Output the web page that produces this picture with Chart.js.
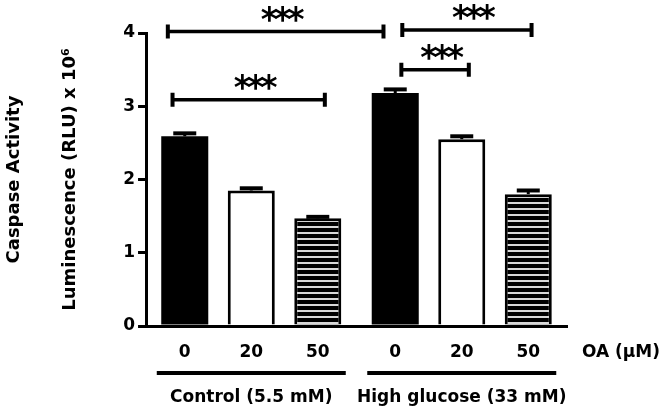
<!DOCTYPE html>
<html>
<head>
<meta charset="utf-8">
<script src="https://cdn.jsdelivr.net/npm/chart.js@4"></script>
<style>
  html, body { margin: 0; padding: 0; background: #fff; }
</style>
</head>
<body>
<canvas id="myChart" width="669" height="416"></canvas>
<script>
// groups and OA doses
const groups = ['Control (5.5 mM)', 'High glucose (33 mM)'];
const doses = ['0', '20', '50'];
const doseUnit = 'OA (\u03bcM)';

// luminescence (RLU x 10^6), one value per group
const oa0 = [2.59, 3.18];
const oa20 = [1.85, 2.55];
const oa50 = [1.47, 1.80];

// error (upper bar only)
const err0 = [0.04, 0.05];
const err20 = [0.03, 0.04];
const err50 = [0.02, 0.05];

const yTicks = [0, 1, 2, 3, 4];

// significance brackets: [dataset, group] -> [dataset, group] at height sigY
const sigFrom = [[0, 0], [0, 0], [0, 1], [0, 1]];
const sigTo = [[0, 1], [2, 0], [2, 1], [1, 1]];
const sigY = [4.02, 3.09, 4.04, 3.5];
const sigText = ['***', '***', '***', '***'];

const FONT = "'DejaVu Sans', Verdana, sans-serif";

// black bar with light horizontal lines
function stripes() {
    const c = document.createElement('canvas');
    c.width = 8;
    c.height = 6;
    const g = c.getContext('2d');
    g.fillStyle = '#000';
    g.fillRect(0, 0, 8, 6);
    g.fillStyle = '#d8d8d8';
    g.fillRect(0, 4, 8, 2);
    return g.createPattern(c, 'repeat');
}

// bracket ends nudged off the bar centre, in bar widths
const nudge = [[-0.36, -0.25], [-0.26, 0.15], [0.15, 0.07], [0.13, 0.15]];

const annot = {
    id: 'annot',
    afterDraw(chart) {
        const { ctx, scales: { x, y }, chartArea } = chart;
        const vals = [oa0, oa20, oa50];
        const errs = [err0, err20, err50];
        ctx.save();
        ctx.fillStyle = '#000';
        ctx.strokeStyle = '#000';
        ctx.lineCap = 'butt';

        // error bars + dose labels
        ctx.font = 'bold 17px ' + FONT;
        ctx.textAlign = 'center';
        ctx.textBaseline = 'middle';
        vals.forEach((v, d) => {
            chart.getDatasetMeta(d).data.forEach((bar, i) => {
                const top = y.getPixelForValue(v[i] + errs[d][i]);
                ctx.lineWidth = 3;
                ctx.beginPath();
                ctx.moveTo(bar.x, bar.y);
                ctx.lineTo(bar.x, top);
                ctx.stroke();
                ctx.lineWidth = 4;
                ctx.beginPath();
                ctx.moveTo(bar.x - 11.5, top);
                ctx.lineTo(bar.x + 11.5, top);
                ctx.stroke();
                ctx.fillText(doses[d], bar.x, 353);
            });
        });

        ctx.textAlign = 'left';
        ctx.fillText(doseUnit, chartArea.right + 15, 353);

        // group underline + name
        ctx.textAlign = 'center';
        groups.forEach((name, i) => {
            const cx = x.getPixelForValue(i);
            ctx.lineWidth = 4;
            ctx.beginPath();
            ctx.moveTo(cx - 94.5, 373);
            ctx.lineTo(cx + 94.5, 373);
            ctx.stroke();
            ctx.fillText(name, cx, 398);
        });

        // significance brackets
        sigY.forEach((v, k) => {
            const a = chart.getDatasetMeta(sigFrom[k][0]).data[sigFrom[k][1]];
            const b = chart.getDatasetMeta(sigTo[k][0]).data[sigTo[k][1]];
            const x1 = a.x + nudge[k][0] * a.width;
            const x2 = b.x + nudge[k][1] * b.width;
            const yy = y.getPixelForValue(v);
            ctx.lineWidth = 3.5;
            ctx.beginPath();
            ctx.moveTo(x1, yy);
            ctx.lineTo(x2, yy);
            ctx.stroke();
            ctx.lineWidth = 4;
            ctx.beginPath();
            ctx.moveTo(x1, yy - 7);
            ctx.lineTo(x1, yy + 7);
            ctx.moveTo(x2, yy - 7);
            ctx.lineTo(x2, yy + 7);
            ctx.stroke();
            ctx.font = 'bold 33px ' + FONT;
            ctx.letterSpacing = '-4px';
            ctx.textBaseline = 'alphabetic';
            ctx.fillText(sigText[k], (x1 + x2) / 2 + 5, yy - 1);
        });
        ctx.restore();
    }
};

const ctx = document.getElementById('myChart').getContext('2d');

const myChart = new Chart(ctx, {
    type: 'bar',
    data: {
        labels: groups,
        datasets: [
            { label: doses[0], data: oa0, backgroundColor: '#000', borderColor: '#000', borderWidth: 0 },
            { label: doses[1], data: oa20, backgroundColor: '#fff', borderColor: '#000', borderWidth: 3 },
            { label: doses[2], data: oa50, backgroundColor: stripes(), borderColor: '#000', borderWidth: 3 }
        ]
    },
    options: {
        responsive: false,
        animation: false,
        layout: { padding: { top: 33, right: 102, bottom: 90, left: 0 } },
        datasets: { bar: { barPercentage: 0.707, categoryPercentage: 0.948 } },
        plugins: {
            legend: { display: false },
            tooltip: { enabled: false },
            title: {
                display: true,
                position: 'left',
                text: 'Caspase Activity',
                color: '#000',
                font: { family: FONT, size: 18, weight: 'bold' },
                padding: { top: 4, bottom: 0 }
            }
        },
        scales: {
            x: {
                grid: { display: false, drawTicks: false },
                ticks: { display: false },
                border: { color: '#000', width: 3 }
            },
            y: {
                min: 0,
                max: 4,
                afterBuildTicks: s => { s.ticks = yTicks.map(v => ({ value: v })); },
                ticks: { color: '#000', padding: 3, font: { family: FONT, size: 17, weight: 'bold' } },
                grid: { drawOnChartArea: false, drawTicks: true, tickLength: 8, color: '#000', lineWidth: 3 },
                border: { color: '#000', width: 3 },
                title: {
                    display: true,
                    text: 'Luminescence (RLU) x 10\u2076',
                    color: '#000',
                    font: { family: FONT, size: 18, weight: 'bold' },
                    padding: { top: 33.6, bottom: 39.4 }
                }
            }
        }
    },
    plugins: [annot]
});
</script>
</body>
</html>
